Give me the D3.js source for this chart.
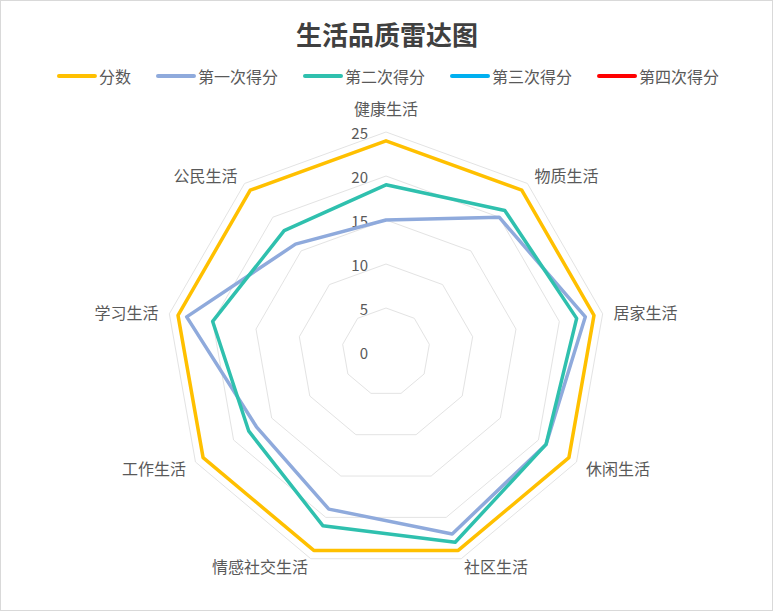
<!DOCTYPE html>
<html>
<head>
<meta charset="utf-8">
<script src="https://cdn.jsdelivr.net/npm/d3@7"></script>
<style>
  html, body { margin: 0; padding: 0; background: #fff; }
  svg { display: block; font-family: "Noto Sans CJK SC", "Microsoft YaHei", sans-serif; }
</style>
</head>
<body>
<script>
// chart data
var categories = ["健康生活", "物质生活", "居家生活", "休闲生活", "社区生活",
                  "情感社交生活", "工作生活", "学习生活", "公民生活"];
var seriesNames = ["分数", "第一次得分", "第二次得分", "第三次得分", "第四次得分"];
var seriesColors = ["#FFC000", "#8FAADC", "#2FC0AE", "#00B0F0", "#FF0000"];
var scoreValues  = [24, 24, 24, 24, 24, 24, 24, 24, 24];
var firstValues  = [15, 20, 23, 21, 22, 19, 17, 23, 16];
var secondValues = [19, 21, 22, 21, 23, 21, 18, 20, 18];
var thirdValues  = [];
var fourthValues = [];
var tickValues = [0, 5, 10, 15, 20, 25];

var width = 773, height = 611;
var cx = 386, cy = 352, maxR = 220;

var svg = d3.select("body").append("svg")
  .attr("width", width)
  .attr("height", height);

// chart border
svg.append("rect")
  .attr("x", 0.5).attr("y", 0.5)
  .attr("width", width - 1).attr("height", height - 1)
  .attr("fill", "#fff")
  .attr("stroke", "#d9d9d9");

// title
svg.append("text")
  .attr("x", cx + 1).attr("y", 33)
  .attr("text-anchor", "middle")
  .attr("dominant-baseline", "central")
  .attr("font-size", 26)
  .attr("font-weight", "bold")
  .attr("fill", "#404040")
  .text("生活品质雷达图");

// scales
var r = d3.scaleLinear().domain([0, 25]).range([0, maxR]);
var angle = d3.scaleLinear().domain([0, categories.length]).range([0, 2 * Math.PI]);

var g = svg.append("g").attr("transform", "translate(" + cx + "," + cy + ")");

// grid rings
var ringLine = d3.lineRadial()
  .angle(function(d, i) { return angle(i); })
  .radius(function(d) { return r(d); })
  .curve(d3.curveLinearClosed);

g.selectAll(".ring")
  .data(tickValues.filter(function(t) { return t > 0; }))
  .enter().append("path")
  .attr("class", "ring")
  .attr("d", function(t) { return ringLine(categories.map(function() { return t; })); })
  .attr("fill", "none")
  .attr("stroke", "#e3e3e3")
  .attr("stroke-width", 1);

// tick labels
g.selectAll(".tick")
  .data(tickValues)
  .enter().append("text")
  .attr("class", "tick")
  .attr("x", -18)
  .attr("y", function(t) { return -r(t); })
  .attr("text-anchor", "end")
  .attr("dominant-baseline", "central")
  .attr("font-size", 15)
  .attr("fill", "#595959")
  .text(function(t) { return t; });

// category labels
g.selectAll(".cat")
  .data(categories)
  .enter().append("text")
  .attr("class", "cat")
  .each(function(d, i) {
    var a = angle(i), s = Math.sin(a), c = Math.cos(a);
    var lr = Math.abs(s) < 0.01 ? 244 : (c < -0.6 ? 228 : 231);
    d3.select(this)
      .attr("x", s * lr)
      .attr("y", -c * lr)
      .attr("text-anchor", Math.abs(s) < 0.01 ? "middle" : (s > 0 ? "start" : "end"));
  })
  .attr("dominant-baseline", "central")
  .attr("font-size", 16)
  .attr("fill", "#595959")
  .text(function(d) { return d; });

// series
var allSeries = [scoreValues, firstValues, secondValues, thirdValues, fourthValues];

var seriesLine = d3.lineRadial()
  .angle(function(d, i) { return angle(i); })
  .radius(function(d) { return r(d); })
  .curve(d3.curveLinearClosed);

g.selectAll(".series")
  .data(allSeries.map(function(v, i) { return { values: v, color: seriesColors[i] }; })
    .filter(function(s) { return s.values.length > 0; }))
  .enter().append("path")
  .attr("class", "series")
  .attr("d", function(s) { return seriesLine(s.values); })
  .attr("fill", "none")
  .attr("stroke", function(s) { return s.color; })
  .attr("stroke-width", 3.5)
  .attr("stroke-linejoin", "round");

// legend
var legend = svg.append("g");
var lx = 0, gap = 25;
seriesNames.forEach(function(name, i) {
  var item = legend.append("g").attr("transform", "translate(" + lx + ",0)");
  item.append("line")
    .attr("x1", 2).attr("x2", 38)
    .attr("y1", 0).attr("y2", 0)
    .attr("stroke", seriesColors[i])
    .attr("stroke-width", 4)
    .attr("stroke-linecap", "round");
  var t = item.append("text")
    .attr("x", 42).attr("y", 0)
    .attr("dominant-baseline", "central")
    .attr("font-size", 16)
    .attr("fill", "#595959")
    .text(name);
  lx += 42 + t.node().getComputedTextLength() + gap;
});
var legendW = lx - gap;
legend.attr("transform", "translate(" + (388 - legendW / 2) + ",76)");
</script>
</body>
</html>
